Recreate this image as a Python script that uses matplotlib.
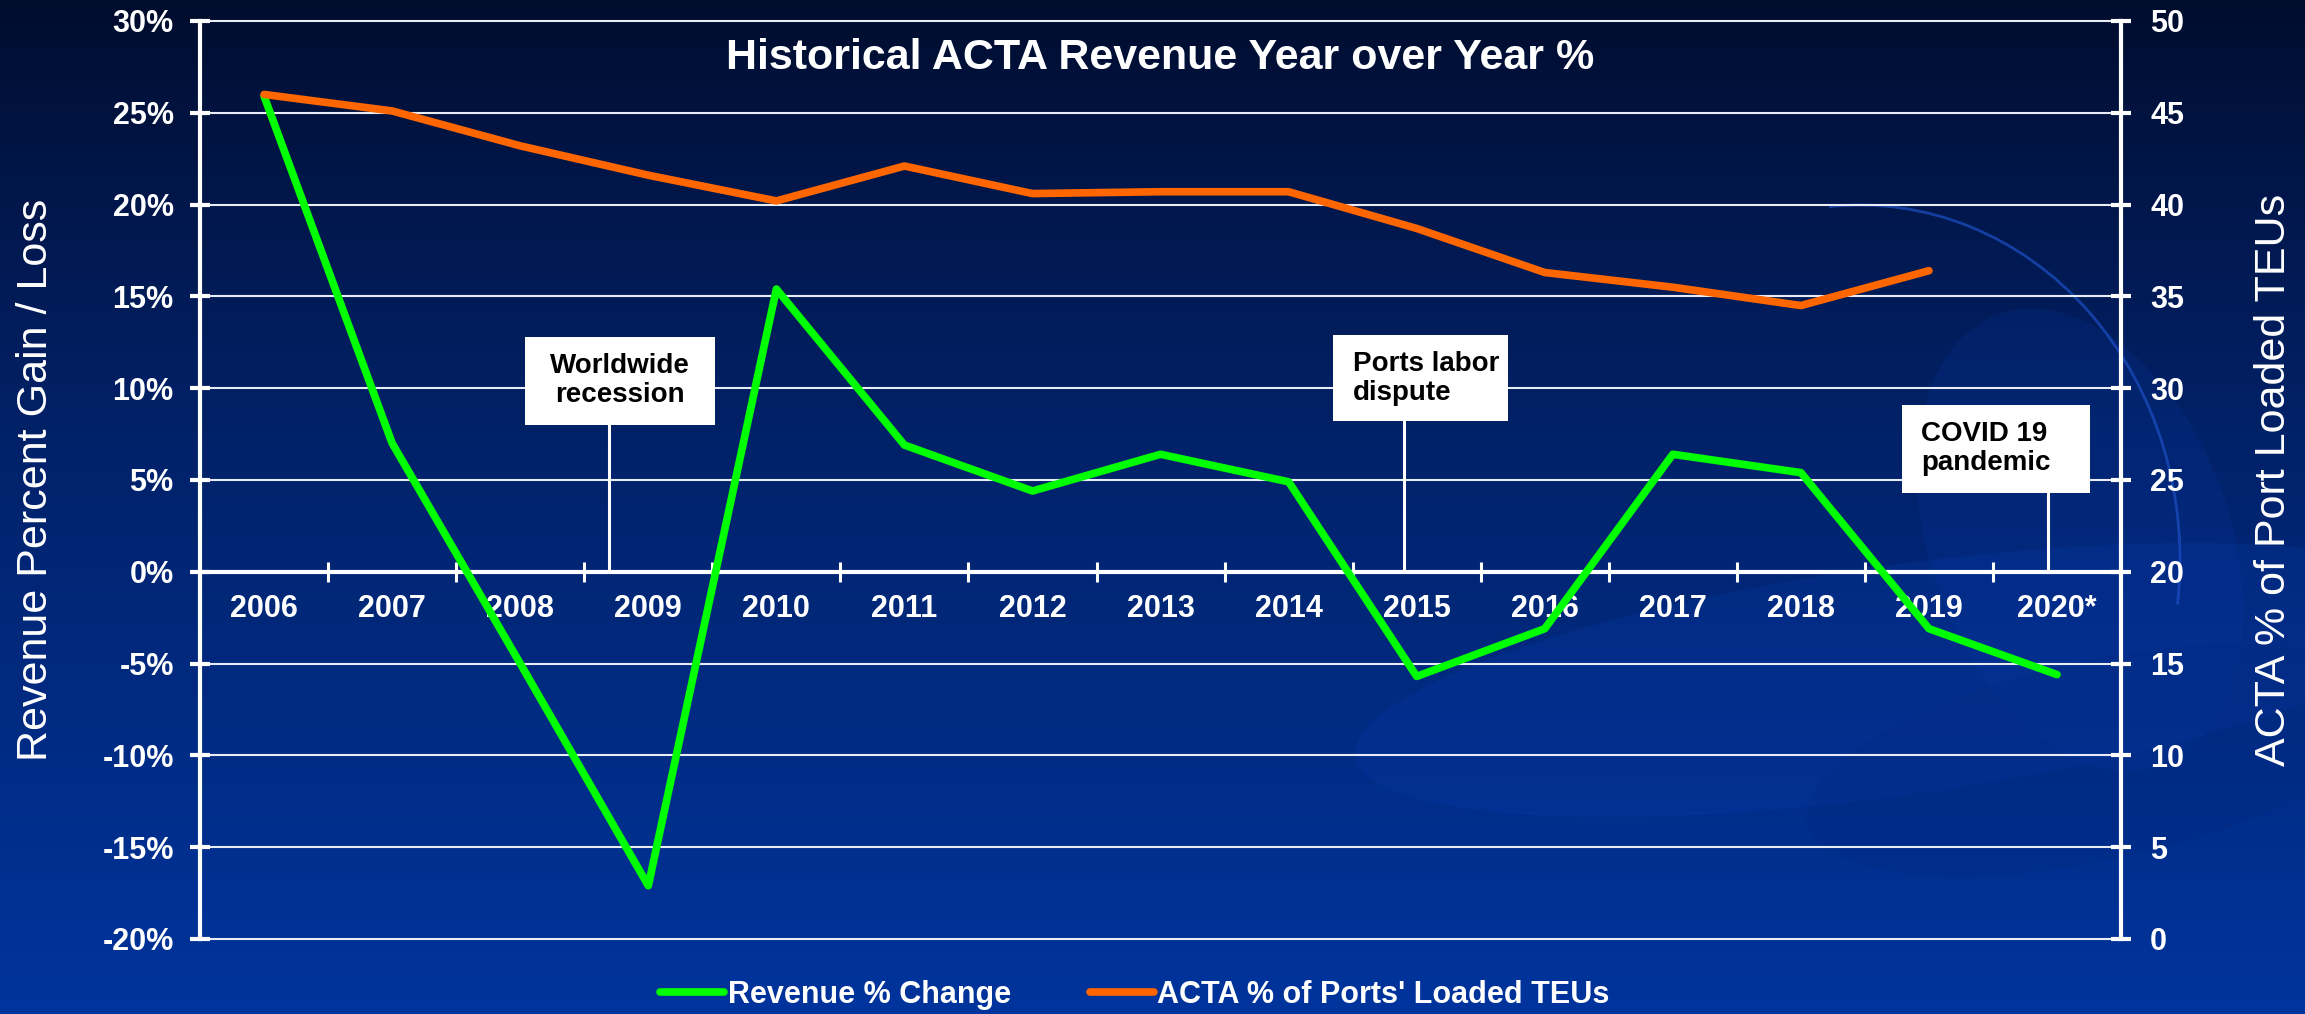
import numpy as np
import matplotlib
matplotlib.use("Agg")
import matplotlib.pyplot as plt
from matplotlib.patches import Rectangle, Ellipse, Arc
from matplotlib.colors import LinearSegmentedColormap
from matplotlib.lines import Line2D

plt.rcParams['font.family'] = ['Liberation Sans', 'DejaVu Sans']

# --- DATA ---
years = ['2006', '2007', '2008', '2009', '2010', '2011', '2012', '2013',
         '2014', '2015', '2016', '2017', '2018', '2019', '2020*']
revenue_change = [25.9, 7.0, -5.0, -17.1, 15.4, 6.9, 4.4, 6.4,
                  4.9, -5.7, -3.1, 6.4, 5.4, -3.1, -5.6]
teu_share = [46.0, 45.1, 43.2, 41.6, 40.2, 42.1, 40.6, 40.7,
             40.7, 38.7, 36.3, 35.5, 34.5, 36.4]

events = ['Worldwide\nrecession', 'Ports labor\ndispute', 'COVID 19\npandemic']
event_x = [2.69, 8.90, 13.93]

left_ticks = [-20, -15, -10, -5, 0, 5, 10, 15, 20, 25, 30]
right_ticks = [0, 5, 10, 15, 20, 25, 30, 35, 40, 45, 50]

GREEN = '#00ff00'
ORANGE = '#ff6600'

fig = plt.figure(figsize=(23.05, 10.14), dpi=100)

# --- BACKGROUND ---
bg = fig.add_axes([0, 0, 1, 1], zorder=-10)
cmap = LinearSegmentedColormap.from_list('bg', ['#000c2c', '#02226a', '#00349c'])
grad = np.linspace(0, 1, 256).reshape(-1, 1) ** 0.85
bg.imshow(grad, aspect='auto', cmap=cmap, extent=[0, 2305, 1014, 0])
bg.set_xlim(0, 2305)
bg.set_ylim(1014, 0)
# decorative swooshes (background art only)
bg.add_patch(Ellipse((1900, 680), 1100, 230, angle=-8, facecolor='#0a3cb0', alpha=0.22, lw=0))
bg.add_patch(Ellipse((2080, 540), 300, 480, angle=-20, facecolor='#0b3db2', alpha=0.15, lw=0))
bg.add_patch(Ellipse((2100, 760), 600, 200, angle=-12, facecolor='#022a80', alpha=0.3, lw=0))
bg.add_patch(Arc((1860, 560), 640, 710, theta1=-95, theta2=8, color='#1d4fc4', lw=2, alpha=0.7))
bg.axis('off')

# --- MAIN AXES ---
ax = fig.add_axes([0.0868, 0.074, 0.8334, 0.9053])
ax.set_facecolor('none')
x = np.arange(len(years))

ax.set_xlim(-0.5, len(years) - 0.5)
ax.set_ylim(-20, 30)
ax.set_yticks(left_ticks)
ax.set_yticklabels([f'{t}%' for t in left_ticks])
ax.yaxis.grid(True, color='#e8ecf4', lw=1.5)
ax.set_axisbelow(True)
for gl in ax.get_ygridlines():
    gl.set_clip_on(False)

for side in ['top', 'right']:
    ax.spines[side].set_visible(False)
ax.spines['left'].set_color('white')
ax.spines['left'].set_linewidth(3)
ax.spines['bottom'].set_position(('data', 0))
ax.spines['bottom'].set_color('white')
ax.spines['bottom'].set_linewidth(3)

ax.set_xticks(x)
ax.set_xticklabels(years)
ax.set_xticks(x[:-1] + 0.5, minor=True)
ax.tick_params(axis='x', which='major', length=0, pad=16, labelsize=22,
               labelcolor='white')
ax.tick_params(axis='x', which='minor', direction='inout', length=14,
               width=2.2, color='white')
ax.tick_params(axis='y', direction='inout', length=14, width=3, color='white',
               pad=12, labelsize=22, labelcolor='white')
for lab in ax.get_xticklabels() + ax.get_yticklabels():
    lab.set_fontweight('bold')

ax.set_ylabel('Revenue Percent Gain / Loss', fontsize=31, color='white', labelpad=33)

green_line, = ax.plot(x, revenue_change, color=GREEN, lw=5.5,
                      solid_capstyle='round', solid_joinstyle='round', zorder=3)

# event annotations
box_w = [1.48, 1.36, 1.47]
box_left = [2.04, 8.35, 12.79]
box_top = [12.8, 12.9, 9.1]
box_h = [4.8, 4.7, 4.8]
text_align = ['center', 'left', 'left']
for lab, ex, bl, bw, bt, bh, al in zip(events, event_x, box_left, box_w, box_top, box_h, text_align):
    ax.add_patch(Rectangle((bl, bt - bh), bw, bh, facecolor='white',
                           edgecolor='none', zorder=4))
    ax.plot([ex, ex], [bt - bh, 0.2], color='white', lw=2.2, zorder=2)
    tx = bl + bw / 2 if al == 'center' else bl + 0.15
    ax.text(tx, bt - bh / 2, lab, ha=al, va='center', fontsize=20,
            fontweight='bold', color='black', linespacing=1.15, zorder=5)

ax.text(0.5, 0.96, 'Historical ACTA Revenue Year over Year %',
        transform=ax.transAxes, ha='center', va='center',
        fontsize=31, fontweight='bold', color='white')

# --- RIGHT AXIS ---
ax2 = ax.twinx()
ax2.set_ylim(0, 50)
ax2.set_yticks(right_ticks)
for side in ['top', 'bottom', 'left']:
    ax2.spines[side].set_visible(False)
ax2.spines['right'].set_color('white')
ax2.spines['right'].set_linewidth(3)
ax2.tick_params(axis='y', direction='inout', length=14, width=3, color='white',
                pad=14, labelsize=22, labelcolor='white')
for lab in ax2.get_yticklabels():
    lab.set_fontweight('bold')
ax2.set_ylabel('ACTA % of Port Loaded TEUs', fontsize=31, color='white', labelpad=50)

orange_line, = ax2.plot(x[:len(teu_share)], teu_share, color=ORANGE, lw=5.5,
                        solid_capstyle='round', solid_joinstyle='round', zorder=3)

# --- LEGEND ---
h1 = Line2D([], [], color=GREEN, lw=5.5, solid_capstyle='round')
h2 = Line2D([], [], color=ORANGE, lw=5.5, solid_capstyle='round')
leg = fig.legend([h1, h2], ['Revenue % Change', "ACTA % of Ports' Loaded TEUs"],
                 loc='center', bbox_to_anchor=(0.4924, 0.019), ncol=2,
                 frameon=False, fontsize=22, handlelength=2.1,
                 handletextpad=0.1, columnspacing=2.6, borderpad=0)
for t in leg.get_texts():
    t.set_color('white')
    t.set_fontweight('bold')

fig.savefig('out.png', dpi=100)
